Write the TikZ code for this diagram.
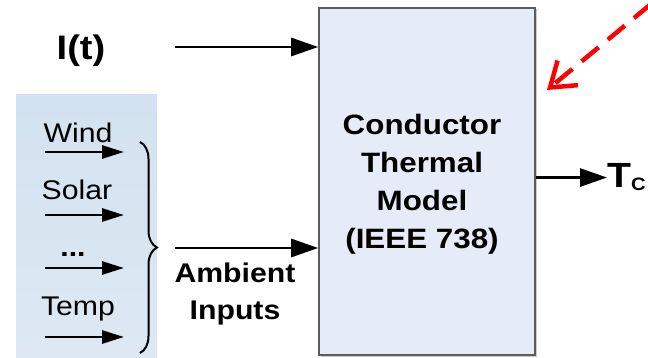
\documentclass[tikz,border=0pt]{standalone}
\usepackage{fontspec}
\setmainfont{Liberation Sans}[FakeStretch=1.12]
\usetikzlibrary{arrows.meta,shadows,decorations.pathreplacing}
\definecolor{panelblue}{HTML}{D3E2F0}
\definecolor{panelsoft}{HTML}{DDE8F2}
\definecolor{modelfill}{HTML}{E6ECF7}
\definecolor{modelrule}{HTML}{5C5C5C}
\definecolor{hintred}{HTML}{FF0000}
\tikzset{
  model/.style     = {draw=modelrule, line width=1.6pt, fill=modelfill, inner sep=0pt,
                      minimum width=216pt, minimum height=347pt,
                      drop shadow={shadow xshift=1.5pt, shadow yshift=-1.5pt, fill=black!40}},
  modeltext/.style = {align=center, inner sep=0pt, font=\bfseries\fontsize{28}{38}\selectfont},
  inword/.style    = {inner sep=0pt, font=\fontsize{27}{27}\selectfont},
  sigword/.style   = {inner sep=0pt, font=\bfseries\fontsize{34}{34}\selectfont},
  flow/.style      = {-{Triangle[length=27pt,width=18pt]}, line width=2.9pt},
  smallflow/.style = {-{Triangle[length=22pt,width=13pt]}, line width=2.9pt},
  hint/.style      = {-{Straight Barb[length=23pt,width=32pt]}, draw=hintred,
                      line width=4.5pt, dash pattern=on 22pt off 12pt},
}
\begin{document}
\begin{tikzpicture}[x=1pt, y=-1pt]
  \useasboundingbox (0,0) rectangle (648,358);

  % ambient input panel
  \fill[top color=panelblue, bottom color=panelsoft] (16,95) rectangle (157,357);
  \node[inword, anchor=base] (wind)  at (78,143) {Wind};
  \node[inword, anchor=base] (solar) at (77,200) {Solar};
  \node[inword, anchor=base, font=\bfseries\fontsize{27}{27}\selectfont] (dots) at (73,256) {...};
  \node[inword, anchor=base] (temp)  at (78,315) {Temp};
  \foreach \y [count=\i] in {152,215,268,337} {
    \coordinate (in\i)  at (45,\y);
    \coordinate (out\i) at (124,\y);
    \draw[smallflow] (in\i) -- (out\i);
  }
  \coordinate (bracetop) at (140,142);
  \coordinate (bracebot) at (140,353);
  \draw[line width=2pt, decorate, decoration={brace, amplitude=17pt}] (bracetop) -- (bracebot);

  % model block
  \node[model] (model) at (427,181.5) {};
  \node[modeltext, anchor=north] (title) at (422,114) {Conductor\\Thermal\\Model\\(IEEE 738)};

  % inputs and output
  \node[sigword, anchor=base] (it) at (81,60) {I(t)};
  \coordinate (itin) at (175,47);
  \draw[flow] (itin) -- (itin -| model.west);

  \coordinate (ambin) at (175,248);
  \draw[flow] (ambin) -- (ambin -| model.west);
  \node[align=center, inner sep=0pt, font=\bfseries\fontsize{27}{37}\selectfont, anchor=north]
       (amb) at (235,263) {Ambient\\Inputs};

  \node[inner sep=0pt, anchor=base west, font=\bfseries] (tc) at (607,188)
       {\fontsize{35}{35}\selectfont T\fontsize{18}{18}\selectfont\raisebox{-3pt}{C}};
  \draw[flow] (model.east |- tc.west) -- (tc.west);

  % pointer to the block
  \coordinate (hintstart) at (651,4);
  \coordinate (hinttip)   at (547,90);
  \draw[hint] (hintstart) -- (hinttip);
\end{tikzpicture}
\end{document}
